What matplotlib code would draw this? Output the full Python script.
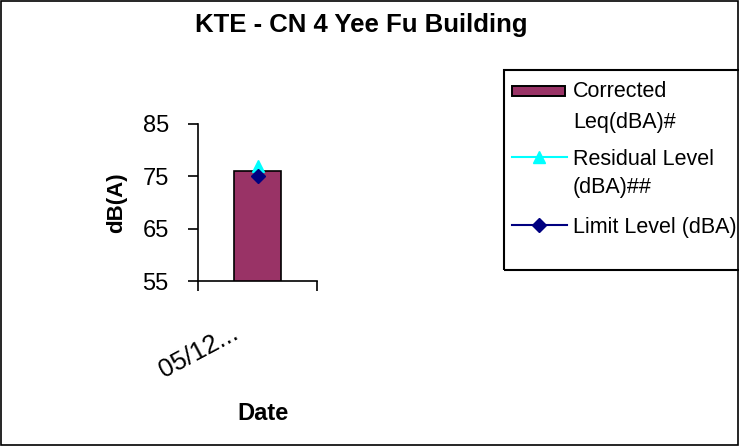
import matplotlib
matplotlib.use("Agg")
import matplotlib.pyplot as plt
from matplotlib.patches import Rectangle
from matplotlib.lines import Line2D

plt.rcParams['font.family'] = ['Liberation Sans', 'DejaVu Sans']

dates = ["05/12..."]
corrected_leq = [76]
residual_level = [77]
limit_level = [75]

W, H = 739, 446
fig = plt.figure(figsize=(W / 100, H / 100), dpi=100)
fig.patch.set_facecolor('white')


def fx(px):
    return px / W


def fy(py):
    return 1 - py / H


# outer frame
fig.add_artist(Rectangle((0.001, 0.002), 0.997, 0.996, transform=fig.transFigure,
                         fill=False, edgecolor='black', linewidth=1.2))

ax = fig.add_axes([fx(198), fy(281), fx(317) - fx(198), fy(124) - fy(281)])
x = list(range(len(dates)))
bar_color = '#993366'
res_color = '#00FFFF'
lim_color = '#000080'
ax.bar(x, corrected_leq, width=0.4, color=bar_color, edgecolor='black', linewidth=1.2,
       zorder=2)
ax.plot(x, residual_level, color=res_color, marker='^', markersize=9, linewidth=1.5,
        zorder=3)
ax.plot(x, limit_level, color=lim_color, marker='D', markersize=7, linewidth=1.5,
        zorder=4)

ax.set_xlim(-0.5, 0.5)
ax.set_ylim(55, 85)
ax.set_yticks([55, 65, 75, 85])
ax.set_xticks([-0.5, 0.5])
ax.set_xticklabels(['', ''])
# category labels, rotated, placed like the reference's tick labels
for xi, lab in zip(x, dates):
    ax.annotate(lab, xy=(xi, 0), xycoords=('data', 'axes fraction'),
                xytext=(-11, -29), textcoords='offset points',
                rotation=28, ha='right', va='top', fontsize=18.5, annotation_clip=False)
ax.tick_params(axis='x', direction='out', length=7, width=1.2)
ax.tick_params(axis='y', direction='out', length=7, width=1.2, labelsize=17, pad=14)
for s in ['top', 'right']:
    ax.spines[s].set_visible(False)
for s in ['left', 'bottom']:
    ax.spines[s].set_linewidth(1.2)

fig.text(fx(361), fy(25), 'KTE - CN 4 Yee Fu Building', ha='center', va='center',
         fontsize=18.5, fontweight='bold')
fig.text(fx(117), fy(203), 'dB(A)', ha='center', va='center', rotation=90,
         fontsize=16, fontweight='bold')
fig.text(fx(263), fy(413), 'Date', ha='center', va='center', fontsize=17,
         fontweight='bold')

# legend (drawn manually to follow the reference layout)
fig.add_artist(Rectangle((fx(504), fy(270)), fx(760) - fx(504), fy(70) - fy(270),
                         transform=fig.transFigure, fill=False, edgecolor='black',
                         linewidth=1.5))
leg_fs = 15.5
tx = fx(573)
# entry 1: bar
fig.add_artist(Rectangle((fx(512), fy(96)), fx(565) - fx(512), fy(86) - fy(96),
                         transform=fig.transFigure, facecolor=bar_color,
                         edgecolor='black', linewidth=1.4))
fig.text(tx, fy(96.7), 'Corrected', fontsize=leg_fs, va='baseline')
fig.text(tx, fy(128.3), 'Leq(dBA)#', fontsize=leg_fs, va='baseline')
# entry 2: residual
fig.add_artist(Line2D([fx(512), fx(567)], [fy(157.3), fy(157.3)], transform=fig.transFigure,
                      color=res_color, linewidth=1.5))
fig.add_artist(Line2D([fx(539)], [fy(157.3)], transform=fig.transFigure,
                      color=res_color, marker='^', markersize=9, linestyle='none'))
fig.text(tx, fy(165), 'Residual Level', fontsize=leg_fs, va='baseline')
fig.text(tx, fy(192.7), '(dBA)##', fontsize=leg_fs, va='baseline')
# entry 3: limit
fig.add_artist(Line2D([fx(512), fx(567)], [fy(225), fy(225)], transform=fig.transFigure,
                      color=lim_color, linewidth=1.5))
fig.add_artist(Line2D([fx(539)], [fy(225)], transform=fig.transFigure,
                      color=lim_color, marker='D', markersize=7, linestyle='none'))
fig.text(tx, fy(232.7), 'Limit Level (dBA)', fontsize=leg_fs, va='baseline')

fig.savefig('out.png', dpi=100)
